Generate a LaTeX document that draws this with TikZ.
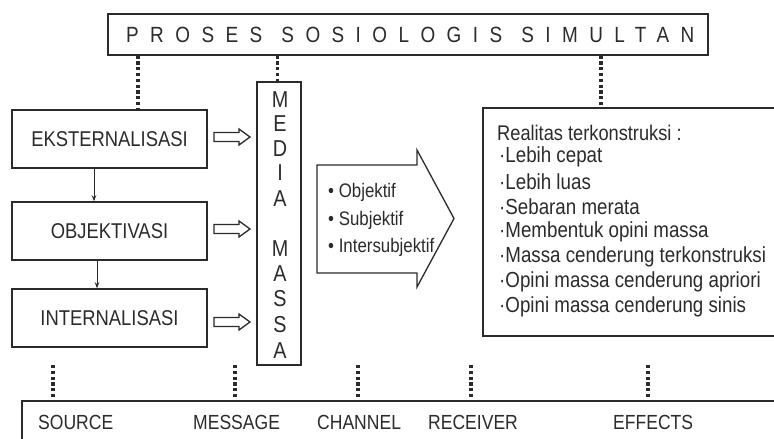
\documentclass[tikz,border=0pt]{standalone}
\usepackage{fontspec}
\setmainfont{Liberation Sans}[FakeStretch=0.86]
\newfontfamily\spacedfont{Liberation Sans}[FakeStretch=0.86,LetterSpace=52]
\usetikzlibrary{arrows.meta,calc}
\definecolor{ink}{HTML}{2B2B2B}
\newcommand\harrowshape[2]{%
  \draw[hollow] (#1,#2-4.5) -- (#1+25,#2-4.5) -- (#1+25,#2-8) -- (#1+36,#2)
    -- (#1+25,#2+8) -- (#1+25,#2+4.5) -- (#1,#2+4.5) -- cycle;}
\begin{document}
\begin{tikzpicture}[x=1pt,y=-1pt,
  box/.style={draw=ink,line width=1.5pt,fill=white,rectangle,inner sep=0pt,text=ink},
  dotline/.style={draw=ink,line width=3.4pt,dash pattern=on 3.2pt off 2.6pt},
  flow/.style={draw=ink,line width=1pt,-{Stealth[length=6pt,width=4.5pt]}},
  hollow/.style={draw=ink,line width=1.3pt,fill=white,line join=miter},
  lbl/.style={font=\fontsize{21.4}{25}\selectfont,text=ink,inner sep=0pt},
  blbl/.style={font=\fontsize{20.4}{24}\selectfont,text=ink,inner sep=0pt,anchor=west},
  rlbl/.style={font=\fontsize{21.8}{25}\selectfont,text=ink,inner sep=0pt,anchor=west},
  olbl/.style={font=\fontsize{19.6}{23}\selectfont,text=ink,inner sep=0pt,anchor=west},
  mlbl/.style={font=\fontsize{23}{27}\selectfont,text=ink,inner sep=0pt}
]
\useasboundingbox (0,0) rectangle (774,439);
\clip (0,0) rectangle (774,439);
\fill[white] (0,0) rectangle (774,439);

% top box
\node[box, minimum width=600, minimum height=41, anchor=north west] (top) at (107,13) {};
\node[anchor=west, inner sep=0pt, text=ink] (toptext) at (126,34.5)
  {\spacedfont\fontsize{22}{26}\selectfont PROSES\hspace{2.5pt} SOSIOLOGIS\hspace{2.5pt} SIMULTAN};

% left boxes
\node[box, lbl, minimum width=195, minimum height=58] (eks) at (109.5,139) {EKSTERNALISASI};
\node[box, lbl, minimum width=195, minimum height=58] (obj) at (109.5,231) {OBJEKTIVASI};
\node[box, lbl, minimum width=195, minimum height=58] (int) at (109.5,318) {INTERNALISASI};

% media massa
\node[box, minimum width=44, minimum height=283] (media) at (279,223.5) {};
\foreach \ch/\yy/\nm in {M/100/m1, E/124/m2, D/149/m3, I/173/m4, A/199/m5,
                         M/249/m6, A/274/m7, S/299/m8, S/325/m9, A/351/m10}
  \node[mlbl] (\nm) at (280,\yy) {\ch};

% realitas box (runs past the right edge)
\node[box, minimum width=380, minimum height=228, anchor=north west] (real) at (482,107) {};
\node[rlbl, font=\fontsize{21.2}{25}\selectfont] (rt) at (497,133) {Realitas terkonstruksi :};
\node[rlbl] (r1) at (499,157) {·Lebih cepat};
\node[rlbl] (r2) at (499,182) {·Lebih luas};
\node[rlbl] (r3) at (499,207) {·Sebaran merata};
\node[rlbl] (r4) at (499,232) {·Membentuk opini massa};
\node[rlbl] (r5) at (499,257) {·Massa cenderung terkonstruksi};
\node[rlbl] (r6) at (499,282) {·Opini massa cenderung apriori};
\node[rlbl] (r7) at (499,307) {·Opini massa cenderung sinis};

% big arrow
\draw[hollow] (317,165) -- (417,165) -- (417,150) -- (454,218.5) -- (417,287)
  -- (417,273) -- (317,273) -- cycle;
\node[olbl] (o1) at (328,192) {• Objektif};
\node[olbl] (o2) at (328,220) {• Subjektif};
\node[olbl] (o3) at (328,247) {• Intersubjektif};

% bottom box
\node[box, minimum width=800, minimum height=60, anchor=north west] (bottom) at (21,400) {};
\node[blbl] (s1) at (38,422) {SOURCE};
\node[blbl] (s2) at (193,422) {MESSAGE};
\node[blbl] (s3) at (317,422) {CHANNEL};
\node[blbl] (s4) at (428,422) {RECEIVER};
\node[blbl] (s5) at (613,422) {EFFECTS};

% flow arrows between left boxes
\coordinate (a1) at (94,0);
\coordinate (a2) at (97,0);
\draw[flow] (eks.south -| a1) -- (obj.north -| a1);
\draw[flow] (obj.south -| a2) -- (int.north -| a2);

% hollow arrows to media
\harrowshape{214}{137}
\harrowshape{214}{229}
\harrowshape{214}{322}

% dotted connectors from top box
\coordinate (d1) at (138,0);
\coordinate (d2) at (277.5,0);
\coordinate (d3) at (601,0);
\draw[dotline] (top.south -| d1) -- (eks.north -| d1);
\draw[dotline] (top.south -| d2) -- (media.north -| d2);
\draw[dotline] (top.south -| d3) -- (real.north -| d3);

% dotted connectors to bottom box
\foreach \xx/\nm in {53/b1, 235/b2, 358/b3, 471/b4, 648/b5} {
  \coordinate (\nm) at (\xx,365);
  \draw[dotline] (\nm) -- (\nm |- bottom.north);
}
\end{tikzpicture}
\end{document}
